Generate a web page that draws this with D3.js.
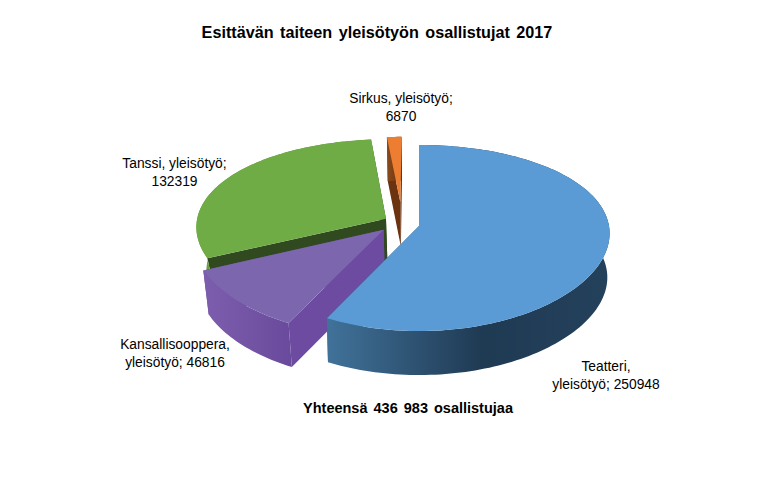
<!DOCTYPE html>
<html>
<head>
<meta charset="utf-8">
<script src="https://cdn.jsdelivr.net/npm/d3@7"></script>
<style>
	html, body { margin: 0; padding: 0; background: #fff; }
	text { font-family: "Liberation Sans", Arial, sans-serif; fill: #000; }
	.label { font-size: 13.8px; }
	.title { font-size: 16.2px; font-weight: bold; word-spacing: 2px; }
	.total { font-size: 14.5px; font-weight: bold; word-spacing: 2px; }
</style>
</head>
<body>
<svg id="chart" width="768" height="500"></svg>
<script>
// data
var categories = ["Teatteri", "Kansallisooppera", "Tanssi", "Sirkus"];
var values = [250948, 46816, 132319, 6870];
var title = "Esittävän taiteen yleisötyön osallistujat 2017";
var total = "Yhteensä 436 983 osallistujaa";

// label lines, same order as categories
var labelLines = [
	["Teatteri,", "yleisötyö; 250948"],
	["Kansallisooppera,", "yleisötyö; 46816"],
	["Tanssi, yleisötyö;", "132319"],
	["Sirkus, yleisötyö;", "6870"]
];

// look of the slices
var topColors = ["#5b9bd5", "#7c66ad", "#6fac46", "#ed7d31"];
var cutColors = ["#2f5a80", "#6c4ba0", "#30491f", "#6b3310"];
var wallStops = [
	[["0%", "#41729a"], ["55%", "#1f3a53"], ["100%", "#24415c"]],
	[["0%", "#7d5eae"], ["100%", "#6a4a9c"]],
	[["0%", "#69a23f"], ["100%", "#5d8f3a"]],
	[["0%", "#8a4a1c"], ["100%", "#6b3310"]]
];

// pull-out of each slice and its radius, in pie radius units
var pullX = [0, -0.185, -0.175, -0.1];
var pullY = [0, 0.04, -0.08, -0.265];
var radiusK = [1, 1, 1, 0.85];
// how much narrower the lower rim is than the top one
var lowK = [0.988, 0.975, 0.955, 0.975];

var cx = 419, cy = 226, rx = 190, ry = 91.5, depth = 44;
var perspX = 0.08, perspY = 0.129;
var svg = d3.select("#chart");
var defs = svg.append("defs");

// pie plane to screen
function project(nx, ny, shrink) {
	return [cx + rx * nx / (1 - perspX * ny) * (shrink || 1),
		cy + ry * ny / (1 - perspY * ny) + (shrink ? depth : 0)];
}

function rim(d, i, a, shrink) {
	var k = radiusK[i];
	return project(k * Math.sin(a) + pullX[i], -k * Math.cos(a) + pullY[i], shrink);
}

var line = d3.line();
var slices = d3.pie().sort(null)(values);

function arcPoints(d, i, shrink) {
	var n = Math.max(2, Math.ceil((d.endAngle - d.startAngle) * 40));
	return d3.range(n + 1).map(function(j) {
		return rim(d, i, d.startAngle + (d.endAngle - d.startAngle) * j / n, shrink);
	});
}

// back to front, so the big slice comes last
var order = [2, 1, 3, 0];
order.forEach(function(i) {
	var d = slices[i];
	var apex = project(pullX[i], pullY[i]);
	var apexLow = project(pullX[i], pullY[i], lowK[i]);
	var top = arcPoints(d, i);
	var low = arcPoints(d, i, lowK[i]);
	var g = svg.append("g").attr("class", "slice").attr("data-name", categories[i]);

	// the two cut faces
	g.append("path")
		.attr("d", line([apex, top[0], low[0], apexLow]) + "Z")
		.attr("fill", cutColors[i]);
	g.append("path")
		.attr("d", line([apex, top[top.length - 1], low[low.length - 1], apexLow]) + "Z")
		.attr("fill", cutColors[i]);

	// outer wall
	var grad = defs.append("linearGradient")
		.attr("id", "wall" + i)
		.attr("gradientUnits", "userSpaceOnUse")
		.attr("x1", d3.min(top, function(p) { return p[0]; }))
		.attr("x2", d3.max(top, function(p) { return p[0]; }))
		.attr("y1", 0).attr("y2", 0);
	wallStops[i].forEach(function(s) {
		grad.append("stop").attr("offset", s[0]).attr("stop-color", s[1]);
	});
	g.append("path")
		.attr("d", line(top.concat(low.slice().reverse())) + "Z")
		.attr("fill", "url(#wall" + i + ")");

	// top of the slice
	g.append("path")
		.attr("d", line([apex].concat(top)) + "Z")
		.attr("fill", topColors[i]);
});

// texts
svg.append("text").attr("class", "title")
	.attr("x", 377).attr("y", 38).attr("text-anchor", "middle")
	.text(title);

svg.append("text").attr("class", "total")
	.attr("x", 408).attr("y", 413).attr("text-anchor", "middle")
	.text(total);

var labelPos = [[606, 371], [175, 349], [174.5, 168], [401, 103]];
labelLines.forEach(function(lines, i) {
	var t = svg.append("text").attr("class", "label")
		.attr("text-anchor", "middle");
	lines.forEach(function(s, j) {
		t.append("tspan")
			.attr("x", labelPos[i][0])
			.attr("y", labelPos[i][1] + j * 18)
			.text(s);
	});
});
</script>
</body>
</html>
